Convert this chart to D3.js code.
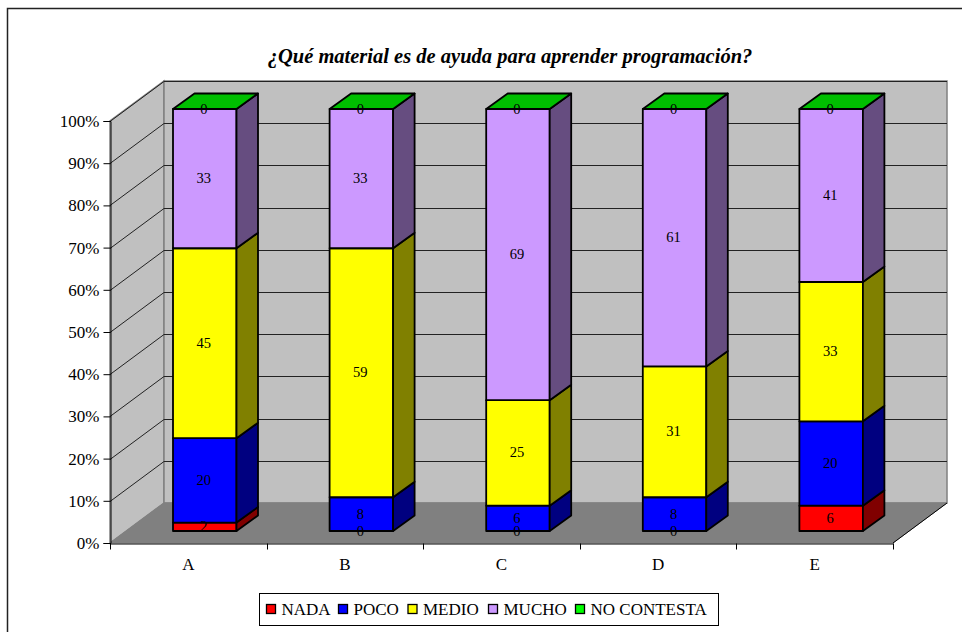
<!DOCTYPE html>
<html lang="es">
<head>
<meta charset="utf-8">
<title>Material de ayuda</title>
<script src="https://cdn.jsdelivr.net/npm/d3@7/dist/d3.min.js"></script>
<style>
  html, body { margin: 0; padding: 0; background: #fff; overflow: hidden; }
  svg { display: block; }
  text { font-family: "Liberation Serif", serif; fill: #000; }
</style>
</head>
<body>
<svg id="chart" width="962" height="632"></svg>
<script>
// Survey answers per material, in percent
const categories = ["A", "B", "C", "D", "E"];
const seriesNames = ["NADA", "POCO", "MEDIO", "MUCHO", "NO CONTESTA"];
const nada = [2, 0, 0, 0, 6];
const poco = [20, 8, 6, 8, 20];
const medio = [45, 59, 25, 31, 33];
const mucho = [33, 33, 69, 61, 41];
const noContesta = [0, 0, 0, 0, 0];
const percentTicks = [0, 10, 20, 30, 40, 50, 60, 70, 80, 90, 100];

const frontColors = ["#ff0000", "#0000ff", "#ffff00", "#cc99ff", "#00ff00"];
const sideColors = ["#800000", "#000080", "#808000", "#664d80", "#00bf00"];

const svg = d3.select("#chart");

// Outer chart frame, open past the right and bottom edges of the page
svg.append("rect").attr("x", 7.5).attr("y", 8.5).attr("width", 970).attr("height", 650)
  .attr("fill", "#fff").attr("stroke", "#222").attr("stroke-width", 1.5);

svg.append("text").attr("x", 510).attr("y", 63).attr("text-anchor", "middle")
  .attr("font-size", 20.5).attr("font-weight", "bold").attr("font-style", "italic")
  .text("¿Qué material es de ayuda para aprender programación?");

// Oblique box: front plane plus a receding offset for the back plane
const x = d3.scaleBand().domain(categories).range([110, 893]);
const y = d3.scaleLinear().domain([0, 100]).range([543, 121]);
const wallDx = 54, wallDy = -40;
const xLeft = x.range()[0], xRight = x.range()[1];
const y0 = y(0), y100 = y(100);
const poly = pts => pts.map(p => p.join(",")).join(" ");

// Side wall, back wall, floor
svg.append("polygon")
  .attr("points", poly([[xLeft, y0], [xLeft, y100], [xLeft + wallDx, y100 + wallDy], [xLeft + wallDx, y0 + wallDy]]))
  .attr("fill", "#c0c0c0").attr("stroke", "#808080").attr("stroke-width", 1.5);
svg.append("polygon")
  .attr("points", poly([[xLeft + wallDx, y0 + wallDy], [xLeft + wallDx, y100 + wallDy], [xRight + wallDx, y100 + wallDy], [xRight + wallDx, y0 + wallDy]]))
  .attr("fill", "#c0c0c0").attr("stroke", "#808080").attr("stroke-width", 1.5);
svg.append("polygon")
  .attr("points", poly([[xLeft, y0], [xLeft + wallDx, y0 + wallDy], [xRight + wallDx, y0 + wallDy], [xRight, y0]]))
  .attr("fill", "#808080").attr("stroke", "#808080");

// Gridlines run along the side wall and across the back wall
const grid = svg.append("g").attr("stroke", "#222").attr("fill", "none");
percentTicks.forEach(t => {
  if (t === 0) return;
  const yy = Math.round(y(t)) + 0.5;
  grid.append("polyline")
    .attr("points", poly([[xLeft, yy], [xLeft + wallDx, yy + wallDy], [xRight + wallDx, yy + wallDy]]));
});

// Axes on the front plane
const yAxis = d3.axisLeft(y).tickValues(percentTicks).tickFormat(d => d + "%").tickSize(7).tickPadding(4);
const gy = svg.append("g").attr("transform", `translate(${xLeft + 0.5},0)`).call(yAxis);
gy.selectAll("text").attr("font-size", 17);
const xEdges = d3.scaleLinear().domain([0, categories.length]).range([xLeft, xRight]);
const gx = svg.append("g").attr("transform", `translate(0,${y0 + 0.5})`)
  .call(d3.axisBottom(x).tickSizeOuter(0).tickSize(0).tickPadding(14));
gx.selectAll("text").attr("font-size", 17);
gx.selectAll("line").remove();
gx.selectAll(".edge").data(d3.range(categories.length + 1)).enter().append("line")
  .attr("class", "edge").attr("stroke", "#000")
  .attr("x1", d => Math.round(xEdges(d)) + 0.5).attr("x2", d => Math.round(xEdges(d)) + 0.5)
  .attr("y1", 0).attr("y2", 6);
svg.selectAll("path.domain").attr("stroke", "#000");
svg.append("line").attr("stroke", "#000")
  .attr("x1", xRight).attr("y1", y0).attr("x2", xRight + wallDx).attr("y2", y0 + wallDy);

// Stacked columns, floating above the front edge of the floor
const barLift = 12, barW = 63.5, barDx = 21.5, barDy = -15.5, barInset = 63;
const stack = d3.stack().keys([0, 1, 2, 3, 4]).value((d, k) => d[k]);
const rows = categories.map((c, i) => [nada[i], poco[i], medio[i], mucho[i], noContesta[i]]);
const layers = stack(rows);

const bars = svg.append("g");
categories.forEach((c, i) => {
  const bx = x(c) + barInset;
  layers.forEach((layer, s) => {
    const [v0, v1] = layer[i];
    const yb = y(v0) - barLift, yt = y(v1) - barLift;
    const g = bars.append("g").attr("stroke", "#000").attr("stroke-width", 1.8).attr("stroke-linejoin", "round");
    if (v1 > v0) {
      g.append("rect").attr("x", bx).attr("y", yt).attr("width", barW).attr("height", yb - yt).attr("fill", frontColors[s]);
      g.append("polygon")
        .attr("points", poly([[bx + barW, yb], [bx + barW, yt], [bx + barW + barDx, yt + barDy], [bx + barW + barDx, yb + barDy]]))
        .attr("fill", sideColors[s]);
    }
    if (s === layers.length - 1) {
      g.append("polygon")
        .attr("points", poly([[bx, yt], [bx + barW, yt], [bx + barW + barDx, yt + barDy], [bx + barDx, yt + barDy]]))
        .attr("fill", sideColors[s]);
    }
  });
});

// Value labels at the middle of each segment
categories.forEach((c, i) => {
  const bx = x(c) + barInset;
  layers.forEach((layer, s) => {
    const [v0, v1] = layer[i];
    svg.append("text").attr("x", bx + barW / 2 - 1).attr("y", (y(v0) + y(v1)) / 2 - barLift + 4.5)
      .attr("text-anchor", "middle").attr("font-size", 14.5)
      .text(layer[i].data[s]);
  });
});

// Legend
const legend = svg.append("g");
legend.append("rect").attr("x", 259.5).attr("y", 593.5).attr("width", 459).attr("height", 32)
  .attr("fill", "#fff").attr("stroke", "#000");
const legendX = [266, 338, 407.5, 488, 575];
seriesNames.forEach((name, i) => {
  legend.append("rect").attr("x", legendX[i] + 0.5).attr("y", 604.5).attr("width", 9).attr("height", 9)
    .attr("fill", frontColors[i]).attr("stroke", "#000").attr("stroke-width", 1.3);
  legend.append("text").attr("x", legendX[i] + 15.5).attr("y", 614.5).attr("font-size", 17).text(name);
});
</script>
</body>
</html>
